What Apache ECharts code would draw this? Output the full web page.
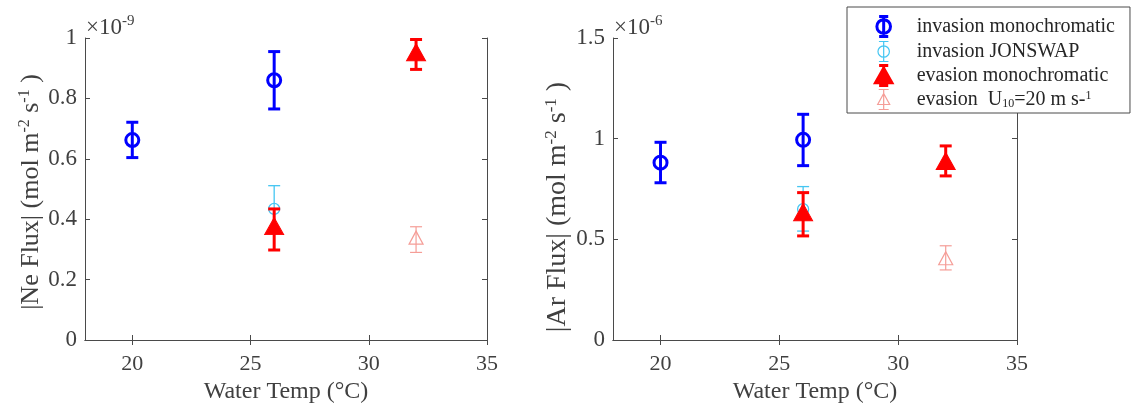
<!DOCTYPE html>
<html><head><meta charset="utf-8">
<script src="https://cdn.jsdelivr.net/npm/echarts@6/dist/echarts.min.js"></script>
<style>html,body{margin:0;padding:0;background:#fff}#c{width:1131px;height:411px}</style>
</head><body><div id="c"></div>
<script>
// ---- data (values as displayed: Ne in 1e-9, Ar in 1e-6 mol m^-2 s^-1) ----
const xTicks = [20, 25, 30, 35];

// Ne panel
const neInvMonoX = [20, 26];
const neInvMonoY = [0.662, 0.860];
const neInvMonoLo = [0.604, 0.765];
const neInvMonoHi = [0.721, 0.955];

const neInvJonX = [26];
const neInvJonY = [0.434];
const neInvJonLo = [0.358];
const neInvJonHi = [0.511];

const neEvaMonoX = [26, 32];
const neEvaMonoY = [0.377, 0.953];
const neEvaMonoLo = [0.298, 0.896];
const neEvaMonoHi = [0.434, 0.995];

const neEvaUX = [32];
const neEvaUY = [0.339];
const neEvaULo = [0.290];
const neEvaUHi = [0.375];

// Ar panel
const arInvMonoX = [20, 26];
const arInvMonoY = [0.881, 0.994];
const arInvMonoLo = [0.781, 0.866];
const arInvMonoHi = [0.982, 1.121];

const arInvJonX = [26];
const arInvJonY = [0.650];
const arInvJonLo = [0.541];
const arInvJonHi = [0.762];

const arEvaMonoX = [26, 32];
const arEvaMonoY = [0.635, 0.889];
const arEvaMonoLo = [0.517, 0.815];
const arEvaMonoHi = [0.732, 0.964];

const arEvaUX = [32];
const arEvaUY = [0.406];
const arEvaULo = [0.348];
const arEvaUHi = [0.468];

const legendNames = ['invMono', 'invJon', 'evaMono', 'evaU'];
const legendLabels = {
  invMono: 'invasion monochromatic',
  invJon: 'invasion JONSWAP',
  evaMono: 'evasion monochromatic',
  evaU: 'evasion  U{sub|10}=20 m s-{sup|1}'
};

// ---- styles ----
const FONT = 'Liberation Serif';
const TXT = '#404040';
const AX = '#4a4a4a';
const styles = {
  invMono: {color: '#0000ff', lw: 3, cap: 6, symbol: 'circle', size: 13, fill: 'none', bw: 3, z: 2},
  invJon: {color: '#45c6f2', lw: 1.3, cap: 6, symbol: 'circle', size: 11, fill: 'none', bw: 1.3, z: 4},
  evaMono: {color: '#ff0000', lw: 3, cap: 6, symbol: 'triangle', size: [19, 17], fill: '#ff0000', bw: 1, z: 6},
  evaU: {color: '#f59d97', lw: 1.2, cap: 6, symbol: 'triangle', size: [14, 13], fill: 'none', bw: 1.2, z: 8}
};

function zip(a, b) { return a.map((v, i) => [v, b[i]]); }
function zip3(a, b, c) { return a.map((v, i) => [v, b[i], c[i]]); }

function errRender(st) {
  return function (params, api) {
    const x = api.value(0), lo = api.value(1), hi = api.value(2);
    const a = api.coord([x, hi]), b = api.coord([x, lo]);
    const s = {stroke: st.color, lineWidth: st.lw};
    return {type: 'group', children: [
      {type: 'line', shape: {x1: a[0], y1: a[1], x2: b[0], y2: b[1]}, style: s},
      {type: 'line', shape: {x1: a[0] - st.cap, y1: a[1], x2: a[0] + st.cap, y2: a[1]}, style: s},
      {type: 'line', shape: {x1: b[0] - st.cap, y1: b[1], x2: b[0] + st.cap, y2: b[1]}, style: s}
    ]};
  };
}

function panelSeries(axisIdx, sets) {
  const out = [];
  sets.forEach(([key, X, Y, Lo, Hi]) => {
    const st = styles[key];
    out.push({
      type: 'custom', name: key, xAxisIndex: axisIdx, yAxisIndex: axisIdx,
      renderItem: errRender(st), data: zip3(X, Lo, Hi), encode: {x: 0, y: [1, 2]},
      z: st.z, silent: true
    });
    out.push({
      type: 'scatter', name: key, xAxisIndex: axisIdx, yAxisIndex: axisIdx,
      data: zip(X, Y), symbol: st.symbol, symbolSize: st.size,
      itemStyle: {color: st.fill, borderColor: st.color, borderWidth: st.bw, opacity: 1},
      z: st.z + 1, silent: true
    });
  });
  return out;
}

const series = [].concat(
  panelSeries(0, [
    ['invMono', neInvMonoX, neInvMonoY, neInvMonoLo, neInvMonoHi],
    ['invJon', neInvJonX, neInvJonY, neInvJonLo, neInvJonHi],
    ['evaMono', neEvaMonoX, neEvaMonoY, neEvaMonoLo, neEvaMonoHi],
    ['evaU', neEvaUX, neEvaUY, neEvaULo, neEvaUHi]
  ]),
  panelSeries(2, [
    ['invMono', arInvMonoX, arInvMonoY, arInvMonoLo, arInvMonoHi],
    ['invJon', arInvJonX, arInvJonY, arInvJonLo, arInvJonHi],
    ['evaMono', arEvaMonoX, arEvaMonoY, arEvaMonoLo, arEvaMonoHi],
    ['evaU', arEvaUX, arEvaUY, arEvaULo, arEvaUHi]
  ])
);

const tickStyle = {show: true, inside: true, length: 5, lineStyle: {color: AX, width: 1}};
const lineStyle = {show: true, lineStyle: {color: AX, width: 1}};

function xAxes(grid) {
  return [
    {gridIndex: grid, type: 'value', min: 18, max: 35, position: 'bottom',
      name: 'Water Temp (°C)', nameLocation: 'middle', nameGap: 37,
      nameTextStyle: {fontFamily: FONT, fontSize: 24, color: TXT},
      axisLine: lineStyle, axisTick: Object.assign({customValues: xTicks}, tickStyle),
      axisLabel: {customValues: xTicks, fontFamily: FONT, fontSize: 22, color: TXT, margin: 13},
      splitLine: {show: false}},
    {gridIndex: grid, type: 'value', min: 18, max: 35, position: 'top',
      axisLine: lineStyle, axisTick: Object.assign({customValues: xTicks}, tickStyle),
      axisLabel: {show: false}, splitLine: {show: false}}
  ];
}
function yAxes(grid, max, interval, name, fs, pad) {
  return [
    {gridIndex: grid, type: 'value', min: 0, max: max, interval: interval, position: 'left',
      name: name, nameLocation: 'middle', nameGap: 40, nameRotate: 90,
      nameTextStyle: {fontFamily: FONT, fontSize: fs, color: TXT, padding: pad,
        rich: {sup: {fontFamily: FONT, fontSize: Math.round(fs * 0.62), color: TXT, verticalAlign: 'top', lineHeight: fs + 2}}},
      axisLine: lineStyle, axisTick: tickStyle,
      axisLabel: {fontFamily: FONT, fontSize: 23, color: TXT, margin: 8},
      splitLine: {show: false}},
    {gridIndex: grid, type: 'value', min: 0, max: max, interval: interval, position: 'right',
      axisLine: lineStyle, axisTick: tickStyle, axisLabel: {show: false}, splitLine: {show: false}}
  ];
}

const legendIcons = {
  invMono: 'path://M3,0 L13,0 M8,0 L8,22 M3,22 L13,22 M15.5,11 A7.5,7.5 0 1 1 0.5,11 A7.5,7.5 0 1 1 15.5,11',
  invJon: 'path://M2,0 L12,0 M7,0 L7,21 M2,21 L12,21 M13,10.5 A6,6 0 1 1 1,10.5 A6,6 0 1 1 13,10.5',
  evaMono: 'path://M3,0 L13,0 M8,0 L8,22 M3,22 L13,22 M8,3 L17,19 L-1,19 Z',
  evaU: 'path://M2,0 L12,0 M7,0 L7,20 M2,20 L12,20 M7,4 L13,15 L1,15 Z'
};

const chart = echarts.init(document.getElementById('c'), null, {renderer: 'canvas'});
chart.setOption({
  animation: false,
  backgroundColor: '#fff',
  grid: [
    {left: 85, top: 38, width: 402, height: 302},
    {left: 613, top: 38, width: 404, height: 302}
  ],
  xAxis: [].concat(xAxes(0), xAxes(1)),
  yAxis: [].concat(
    yAxes(0, 1, 0.2, '|Ne Flux| (mol m{sup|-2} s{sup|-1} )', 26, [0, 6, 0, 0]),
    yAxes(1, 1.5, 0.5, '|Ar Flux| (mol m{sup|-2} s{sup|-1} )', 28, [0, 36, 0, 0])
  ),
  legend: {
    orient: 'vertical', left: 847, top: 7,
    itemWidth: 50, itemHeight: 20, itemGap: 0,
    padding: [7, 15, 1, 27],
    backgroundColor: '#fff', borderColor: AX, borderWidth: 1, borderRadius: 0,
    selectedMode: false,
    data: legendNames.map(n => ({
      name: n, icon: legendIcons[n],
      itemStyle: {color: styles[n].fill, borderColor: styles[n].color,
        borderWidth: n === 'invMono' || n === 'evaMono' ? 3 : 1.2}
    })),
    formatter: n => legendLabels[n],
    textStyle: {fontFamily: FONT, fontSize: 20, color: '#262626', lineHeight: 20, padding: [0, 0, 0, 3],
      rich: {
        sub: {fontFamily: FONT, fontSize: 12, color: '#262626', verticalAlign: 'bottom', lineHeight: 20},
        sup: {fontFamily: FONT, fontSize: 12, color: '#262626', verticalAlign: 'top', lineHeight: 20}
      }}
  },
  graphic: [
    {type: 'text', x: 86, y: 41, style: {text: '×10{sup|-9}', fill: TXT, fontFamily: FONT, fontSize: 23,
      verticalAlign: 'bottom', rich: {sup: {fontFamily: FONT, fontSize: 15, fill: TXT, verticalAlign: 'top', lineHeight: 27}}}},
    {type: 'text', x: 614, y: 41, style: {text: '×10{sup|-6}', fill: TXT, fontFamily: FONT, fontSize: 23,
      verticalAlign: 'bottom', rich: {sup: {fontFamily: FONT, fontSize: 15, fill: TXT, verticalAlign: 'top', lineHeight: 27}}}}
  ],
  series: series
});
</script></body></html>
